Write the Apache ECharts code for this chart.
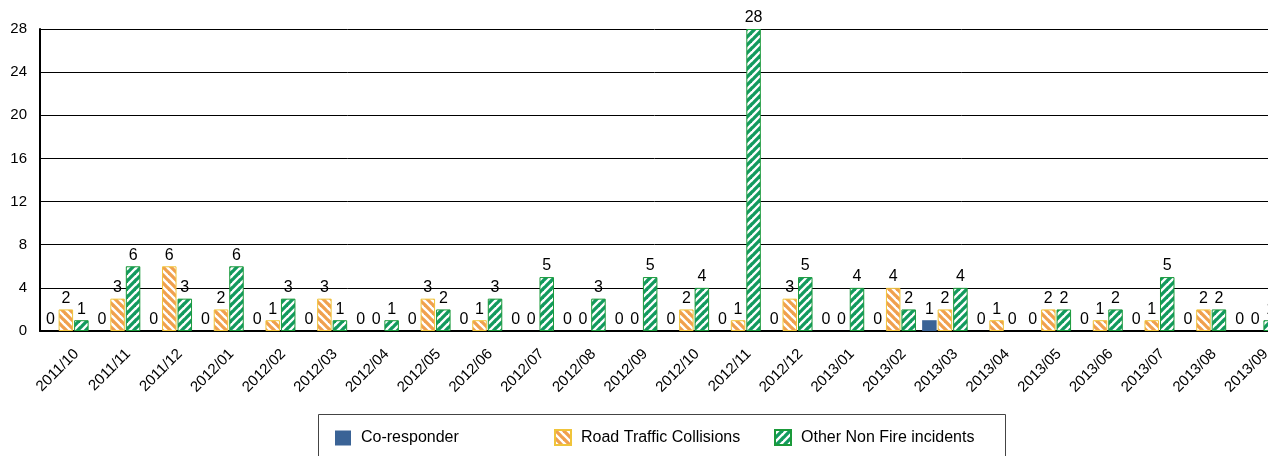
<!DOCTYPE html>
<html><head><meta charset="utf-8">
<script src="https://cdn.jsdelivr.net/npm/echarts@6/dist/echarts.min.js"></script>
<style>html,body{margin:0;padding:0;background:#fff}#c{width:1268px;height:456px}</style>
</head><body><div id="c"></div>
<script>
const categories = ['2011/10','2011/11','2011/12','2012/01','2012/02','2012/03','2012/04','2012/05','2012/06','2012/07','2012/08','2012/09','2012/10','2012/11','2012/12','2013/01','2013/02','2013/03','2013/04','2013/05','2013/06','2013/07','2013/08','2013/09'];
const coResponder = [0,0,0,0,0,0,0,0,0,0,0,0,0,0,0,0,0,1,0,0,0,0,0,0];
const roadTraffic = [2,3,6,2,1,3,0,3,1,0,0,0,2,1,3,0,4,2,1,2,1,1,2,0];
const otherNonFire = [1,6,3,6,3,1,1,2,3,5,3,5,4,28,5,4,2,4,0,2,2,5,2,1];
const seriesNames = ['Co-responder','Road Traffic Collisions','Other Non Fire incidents'];

function hatch(color, dir) {
  const s = 8;
  const c = document.createElement('canvas');
  c.width = s; c.height = s;
  const g = c.getContext('2d');
  g.fillStyle = '#fff'; g.fillRect(0,0,s,s);
  g.strokeStyle = color; g.lineWidth = s/(2*Math.SQRT2) + 0.5;
  g.lineCap = 'square';
  for (let k = -1; k <= 1; k++) {
    g.beginPath();
    if (dir === 'back') { g.moveTo(k*s, 0); g.lineTo(k*s + s, s); }
    else { g.moveTo(k*s, s); g.lineTo(k*s + s, 0); }
    g.stroke();
  }
  return { image: c, repeat: 'repeat' };
}
const noZeroBorder = arr => arr.map(v => v === 0 ? { value: v, itemStyle: { borderWidth: 0 } } : v);

const FONT = 'Liberation Sans, Arial, sans-serif';
const chart = echarts.init(document.getElementById('c'));
const lbl = { show: true, position: 'top', color: '#000', fontSize: 16, fontFamily: FONT, distance: 3 };
const legendCommon = {
  padding: 0, itemWidth: 16, itemHeight: 15, icon: 'rect',
  textStyle: { fontSize: 16, lineHeight: 16, color: '#000', fontFamily: FONT, padding: [0, 0, 0, 5], verticalAlign: 'middle' }
};
chart.setOption({
  animation: false,
  textStyle: { fontFamily: FONT },
  graphic: [{
    type: 'rect', left: 316, top: 412,
    shape: { width: 687, height: 60 },
    style: { fill: 'none', stroke: '#444', lineWidth: 1 }, z: 0
  }],
  grid: { left: 40, top: 29, bottom: 125, right: -13, containLabel: false, outerBoundsMode: 'none' },
  legend: [
    Object.assign({ left: 335, top: 430, data: [seriesNames[0]] }, legendCommon),
    Object.assign({ left: 554, top: 429, data: [seriesNames[1]] }, legendCommon),
    Object.assign({ left: 774, top: 429, data: [seriesNames[2]] }, legendCommon)
  ],
  xAxis: {
    type: 'category', data: categories,
    axisLine: { lineStyle: { color: '#000', width: 2 } },
    axisTick: { show: false },
    axisLabel: { rotate: 45, fontSize: 15, color: '#000', interval: 0, margin: 10,
      verticalAlign: 'top', lineHeight: 30 }
  },
  yAxis: {
    type: 'value', min: 0, max: 28, interval: 4,
    axisLine: { show: true, lineStyle: { color: '#000', width: 2 } },
    axisTick: { show: false },
    splitLine: { lineStyle: { color: '#000', width: 1 } },
    axisLabel: { fontSize: 15, color: '#000', margin: 13 }
  },
  series: [
    { name: seriesNames[0], type: 'bar', data: coResponder, barWidth: 14.5, barGap: '7%',
      itemStyle: { color: '#3A6396' }, label: lbl },
    { name: seriesNames[1], type: 'bar', data: noZeroBorder(roadTraffic), barWidth: 14.5, barGap: '7%',
      itemStyle: { color: hatch('#F0A04E', 'back'), borderColor: '#F0C43A', borderWidth: 1 }, label: lbl },
    { name: seriesNames[2], type: 'bar', data: noZeroBorder(otherNonFire), barWidth: 14.5, barGap: '7%',
      itemStyle: { color: hatch('#129A5E', 'fwd'), borderColor: '#1A9A3A', borderWidth: 1 }, label: lbl }
  ]
});
</script></body></html>
